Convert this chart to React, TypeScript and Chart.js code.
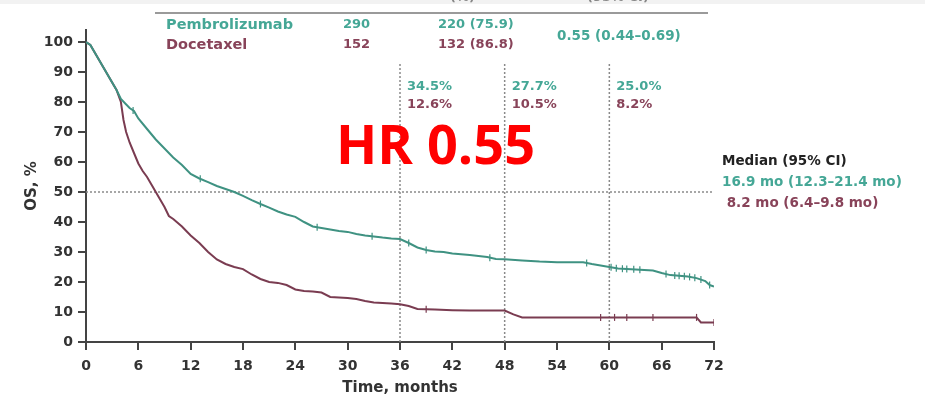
import React, { useEffect, useRef } from "react";
import { Chart, registerables } from "chart.js";

Chart.register(...registerables);

// ---------- data ----------
const pembroMonths = [0, 0.5, 1, 1.5, 2, 2.5, 3, 3.5, 4, 4.5, 5, 5.5, 6, 7, 8, 9, 10, 11, 12, 13, 14, 15, 16, 17, 18, 19, 20, 21, 22, 23, 24, 25, 26, 27, 28, 29, 30, 31, 32, 33, 34, 35, 36, 37, 38, 39, 40, 41, 42, 44, 45, 46, 47, 48, 50, 52, 54, 57, 58, 60, 61, 63, 65, 66, 67, 69, 70, 71, 71.5, 72];
const pembroOS = [100, 99, 96.5, 94, 91.5, 89, 86.5, 84, 81, 79.5, 78, 77, 74.5, 71, 67.5, 64.5, 61.5, 59, 56, 54.5, 53.3, 52, 51, 50, 48.7, 47.3, 46, 44.8, 43.5, 42.5, 41.7, 40, 38.5, 38, 37.5, 37, 36.7, 36, 35.5, 35.2, 34.8, 34.5, 34.3, 33, 31.5, 30.7, 30.2, 30, 29.5, 29, 28.7, 28.3, 27.7, 27.6, 27.2, 26.8, 26.6, 26.6, 26, 25, 24.5, 24.2, 23.8, 23, 22.3, 21.8, 21.3, 20.3, 19, 18.5];

const doceMonths = [0, 0.5, 1, 1.5, 2, 2.5, 3, 3.5, 4, 4.3, 4.6, 5, 5.5, 6, 6.5, 7, 7.5, 8, 8.5, 9, 9.5, 10, 11, 12, 13, 14, 15, 16, 17, 18, 19, 20, 21, 22, 23, 24, 25, 26, 27, 28, 30, 31, 32, 33, 35, 36, 37, 38, 40, 42, 44, 48, 49, 50, 60, 70, 70.5, 72];
const doceOS = [100, 99, 96.5, 94, 91.5, 89, 86.5, 84, 80, 74, 70, 66.5, 63, 59.5, 57, 55, 52.5, 50, 47.5, 45, 42, 41, 38.5, 35.5, 33, 30, 27.5, 26, 25, 24.3, 22.5, 21, 20, 19.7, 19, 17.5, 17, 16.8, 16.5, 15, 14.7, 14.3, 13.7, 13.2, 12.8, 12.6, 12, 11, 10.8, 10.6, 10.5, 10.5, 9.2, 8.2, 8.2, 8.2, 6.5, 6.5];

const pembroCensor = [5.4, 13.1, 20, 26.5, 32.8, 37, 39, 46.3, 57.4, 60.2, 60.8, 61.5, 62, 62.8, 63.5, 66.5, 67.5, 68, 68.6, 69.2, 69.8, 70.5, 71.5];
const doceCensor = [39, 59, 60.6, 62, 65, 70, 72];

const yTickValues = [0, 10, 20, 30, 40, 50, 60, 70, 80, 90, 100];
const medianLevel = 50;
const landmarkMonths = [36, 48, 60];
const landmarkTop = 93;
const pembroLandmark = ["34.5%", "27.7%", "25.0%"];
const doceLandmark = ["12.6%", "10.5%", "8.2%"];

const armNames = ["Pembrolizumab", "Docetaxel"];
const armN = ["290", "152"];
const armEvents = ["220 (75.9)", "132 (86.8)"];
const hrText = "0.55 (0.44\u20130.69)";
const medianTitle = "Median (95% CI)";
const medianLines = ["16.9 mo (12.3\u201321.4 mo)", " 8.2 mo (6.4\u20139.8 mo)"];
const bigLabel = "HR 0.55";

// ---------- styles ----------
const TEAL_LINE = "#3f9282";
const MAROON_LINE = "#7a3c51";
const TEAL_TEXT = "#45a796";
const MAROON_TEXT = "#884359";
const AXIS = "#444";
const FONT = "'DejaVu Sans', sans-serif";

const X0 = 86;
const X1 = 714;
const xPx = (m: number) => X0 + (m / 72) * (X1 - X0);

function valueAt(months: number[], os: number[], t: number) {
  for (let i = 0; i < months.length - 1; i++) {
    if (t >= months[i] && t <= months[i + 1]) {
      const f = (t - months[i]) / (months[i + 1] - months[i]);
      return os[i] + f * (os[i + 1] - os[i]);
    }
  }
  return os[os.length - 1];
}

export default function App() {
  const ref = useRef<HTMLCanvasElement | null>(null);

  useEffect(() => {
    if (!ref.current) return;
    Chart.defaults.font.family = FONT;
    const landmarkSets = landmarkMonths.map((m) => ({
      type: "line" as const,
      data: [
        { x: m, y: 0 },
        { x: m, y: landmarkTop },
      ],
      borderColor: "#8a8a8a",
      borderWidth: 1.5,
      borderDash: [2, 2],
      pointRadius: 0,
      order: 10,
    }));
    const chart = new Chart(ref.current, {
      type: "line",
      data: {
        datasets: [
          {
            label: "Pembrolizumab",
            data: pembroMonths.map((m, i) => ({ x: m, y: pembroOS[i] })),
            borderColor: TEAL_LINE,
            borderWidth: 2,
            pointRadius: 0,
            tension: 0,
            order: 1,
          },
          {
            label: "Docetaxel",
            data: doceMonths.map((m, i) => ({ x: m, y: doceOS[i] })),
            borderColor: MAROON_LINE,
            borderWidth: 2,
            pointRadius: 0,
            tension: 0,
            order: 1,
          },
          {
            type: "scatter",
            data: pembroCensor.map((t) => ({ x: t, y: valueAt(pembroMonths, pembroOS, t) })),
            pointStyle: "line",
            rotation: 90,
            pointRadius: 3.5,
            borderColor: TEAL_LINE,
            backgroundColor: TEAL_LINE,
            borderWidth: 1.2,
            order: 2,
          } as any,
          {
            type: "scatter",
            data: doceCensor.map((t) => ({ x: t, y: valueAt(doceMonths, doceOS, t) })),
            pointStyle: "line",
            rotation: 90,
            pointRadius: 3.5,
            borderColor: MAROON_LINE,
            backgroundColor: MAROON_LINE,
            borderWidth: 1.2,
            order: 2,
          } as any,
          {
            data: [
              { x: 0, y: medianLevel },
              { x: 72, y: medianLevel },
            ],
            borderColor: "#8a8a8a",
            borderWidth: 1.5,
            borderDash: [2, 2],
            pointRadius: 0,
            order: 10,
          },
          ...landmarkSets,
        ],
      },
      options: {
        responsive: false,
        animation: false,
        layout: { padding: { left: 0, right: 211, top: 30, bottom: 0 } },
        plugins: { legend: { display: false }, tooltip: { enabled: false } },
        scales: {
          x: {
            type: "linear",
            min: 0,
            max: 72,
            ticks: { stepSize: 6, color: "#333", font: { size: 14, weight: "bold" }, padding: 8 },
            grid: { display: true, drawOnChartArea: false, drawTicks: true, tickLength: 8, color: AXIS, lineWidth: 2 },
            border: { display: true, color: AXIS, width: 2 },
            title: {
              display: true,
              text: "Time, months",
              color: "#333",
              font: { size: 15, weight: "bold" },
              padding: { top: 0, bottom: 2 },
            },
            afterFit: (s: any) => {
              s.height = 57;
            },
          },
          y: {
            type: "linear",
            min: 0,
            max: 104,
            ticks: { color: "#333", font: { size: 14, weight: "bold" }, padding: 5 },
            afterBuildTicks: (s: any) => {
              s.ticks = yTickValues.map((v) => ({ value: v }));
            },
            grid: { display: true, drawOnChartArea: false, drawTicks: true, tickLength: 8, color: AXIS, lineWidth: 2 },
            border: { display: true, color: AXIS, width: 2 },
            title: {
              display: true,
              text: "OS, %",
              color: "#333",
              font: { size: 15, weight: "bold" },
              padding: { top: 23, bottom: 0 },
            },
            afterFit: (s: any) => {
              s.width = 86;
            },
          },
        },
      } as any,
    });
    return () => chart.destroy();
  }, []);

  const abs = (extra: React.CSSProperties): React.CSSProperties => ({
    position: "absolute",
    whiteSpace: "nowrap",
    fontFamily: FONT,
    fontWeight: "bold",
    lineHeight: "16px",
    pointerEvents: "none",
    ...extra,
  });

  return (
    <div style={{ position: "fixed", left: 0, top: 0, width: 925, height: 399, background: "#fff", overflow: "hidden" }}>
      <canvas ref={ref} width={925} height={399} style={{ position: "absolute", left: 0, top: 0, width: 925, height: 399 }} />
      <div style={{ position: "absolute", left: 0, top: 0, width: 925, height: 4, background: "#f2f2f2" }} />
      {/* table header remnants */}
      <div style={abs({ left: 450, top: -11, fontSize: 13, color: "#888" })}>(%)</div>
      <div style={abs({ left: 587, top: -11, fontSize: 13, color: "#888" })}>(95% CI)</div>
      <div style={{ position: "absolute", left: 155, top: 12, width: 553, height: 2, background: "#9a9a9a" }} />
      {/* table rows */}
      {armNames.map((n, i) => (
        <React.Fragment key={n}>
          <div style={abs({ left: 166, top: 16 + i * 20, fontSize: 14.5, color: i === 0 ? TEAL_TEXT : MAROON_TEXT })}>{n}</div>
          <div style={abs({ left: 343, top: 16 + i * 20, fontSize: 13, color: i === 0 ? TEAL_TEXT : MAROON_TEXT })}>{armN[i]}</div>
          <div style={abs({ left: 438, top: 16 + i * 20, fontSize: 13, color: i === 0 ? TEAL_TEXT : MAROON_TEXT })}>{armEvents[i]}</div>
        </React.Fragment>
      ))}
      <div style={abs({ left: 557, top: 27, fontSize: 13.5, color: TEAL_TEXT })}>{hrText}</div>
      {/* landmark labels */}
      {landmarkMonths.map((m, i) => (
        <React.Fragment key={m}>
          <div style={abs({ left: xPx(m) + 7, top: 78, fontSize: 13, color: TEAL_TEXT })}>{pembroLandmark[i]}</div>
          <div style={abs({ left: xPx(m) + 7, top: 96, fontSize: 13, color: MAROON_TEXT })}>{doceLandmark[i]}</div>
        </React.Fragment>
      ))}
      {/* big HR */}
      <div style={abs({ left: 336, top: 116, fontSize: 54, lineHeight: "54px", color: "#ff0000", fontFamily: "'Open Sans', sans-serif" })}>{bigLabel}</div>
      {/* median legend */}
      <div style={abs({ left: 722, top: 152, fontSize: 13.5, color: "#222" })}>{medianTitle}</div>
      <div style={abs({ left: 722, top: 173, fontSize: 13.5, color: TEAL_TEXT })}>{medianLines[0]}</div>
      <div style={abs({ left: 722, top: 194, fontSize: 13.5, color: MAROON_TEXT, whiteSpace: "pre" })}>{medianLines[1]}</div>
    </div>
  );
}
